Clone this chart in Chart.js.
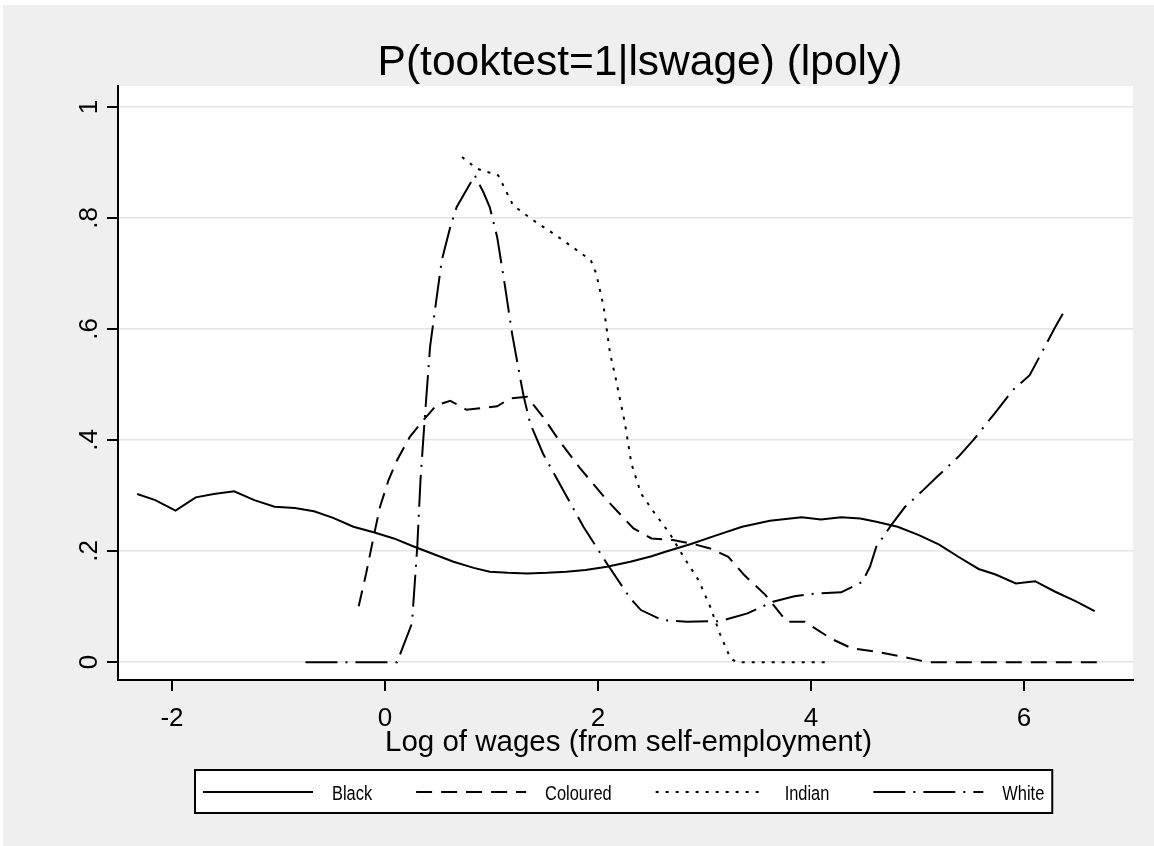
<!DOCTYPE html>
<html>
<head>
<meta charset="utf-8">
<script src="https://cdn.jsdelivr.net/npm/chart.js@4"></script>
<style>
  html, body { margin: 0; padding: 0; background: #fff; }
</style>
</head>
<body>
<canvas id="chart" width="1154" height="846"></canvas>
<script>
// chart text
const chartTitle = 'P(tooktest=1|lswage) (lpoly)';
const xAxisTitle = 'Log of wages (from self-employment)';
const xTicks = [-2, 0, 2, 4, 6];
const xTickLabels = ['-2', '0', '2', '4', '6'];
const yTicks = [0, 0.2, 0.4, 0.6, 0.8, 1];
const yTickLabels = ['0', '.2', '.4', '.6', '.8', '1'];
const seriesNames = ['Black', 'Coloured', 'Indian', 'White'];

// [x, y]
const blackPts = [
  [-2.33, .303], [-2.16, .292], [-1.97, .273], [-1.78, .297], [-1.61, .303], [-1.42, .308],
  [-1.23, .292], [-1.04, .280], [-0.85, .278], [-0.67, .272], [-0.49, .260], [-0.30, .244],
  [-0.11, .234], [0.08, .223], [0.26, .209], [0.45, .195], [0.64, .181], [0.83, .170],
  [0.98, .163], [1.15, .161], [1.33, .160], [1.52, .161], [1.70, .163], [1.88, .166],
  [2.08, .172], [2.30, .181], [2.50, .191], [2.63, .199], [2.87, .213], [3.10, .228],
  [3.35, .244], [3.61, .255], [3.91, .261], [4.09, .257], [4.28, .261], [4.46, .259],
  [4.61, .253], [4.81, .244], [5.01, .229], [5.20, .212], [5.38, .190], [5.57, .168],
  [5.73, .158], [5.92, .142], [6.10, .146], [6.29, .127], [6.48, .110], [6.66, .092]
];
const colouredPts = [
  [-0.25, .101], [-0.18, .160], [-0.11, .226], [-0.05, .280], [0.03, .328], [0.11, .364],
  [0.23, .406], [0.37, .439], [0.48, .463], [0.61, .471], [0.76, .455], [1.05, .461],
  [1.17, .475], [1.33, .478], [1.48, .442], [1.64, .397], [1.83, .349], [2.08, .292],
  [2.33, .241], [2.50, .223], [2.70, .220], [2.87, .214], [3.05, .205], [3.22, .190],
  [3.37, .157], [3.57, .121], [3.77, .073], [3.94, .073], [4.18, .043], [4.38, .025],
  [4.61, .019], [4.85, .010], [5.10, 0], [5.50, 0], [6.00, 0], [6.69, 0]
];
const indianPts = [
  [0.72, .910], [0.86, .889], [1.06, .877], [1.20, .823], [1.39, .796], [1.58, .772],
  [1.80, .742], [1.93, .724], [1.98, .700], [2.05, .640], [2.11, .556], [2.16, .514],
  [2.25, .430], [2.31, .358], [2.40, .304], [2.53, .268], [2.67, .232], [2.80, .190],
  [2.94, .148], [3.05, .100], [3.14, .052], [3.24, .007], [3.30, 0], [3.70, 0], [4.14, 0]
];
const whitePts = [
  [-0.75, 0], [-0.30, 0], [0.11, 0], [0.25, .070], [0.30, .208], [0.33, .328],
  [0.37, .439], [0.42, .568], [0.47, .640], [0.53, .724], [0.61, .784], [0.67, .820],
  [0.84, .877], [0.92, .847], [0.98, .820], [1.05, .766], [1.12, .682], [1.19, .592],
  [1.27, .508], [1.30, .478], [1.36, .430], [1.48, .376], [1.67, .310], [1.86, .244],
  [2.08, .178], [2.30, .115], [2.40, .094], [2.60, .076], [2.83, .073], [3.14, .074],
  [3.40, .088], [3.64, .109], [3.84, .119], [4.04, .124], [4.28, .126], [4.48, .145],
  [4.55, .172], [4.61, .208], [4.75, .247], [4.88, .280], [5.05, .310], [5.18, .334],
  [5.38, .370], [5.52, .400], [5.72, .448], [5.89, .490], [6.05, .517], [6.15, .553],
  [6.29, .604], [6.37, .631]
];

const seriesPts = [blackPts, colouredPts, indianPts, whitePts];
const seriesDash = [[], [16, 9], [3, 7], [32, 8, 2, 8]];

const FONT = '"Liberation Sans", Arial, sans-serif';

// backgrounds, ticks, labels, title and the legend box
const stataLook = {
  id: 'stataLook',
  beforeDraw(chart) {
    const { ctx, chartArea: a } = chart;
    ctx.save();
    ctx.fillStyle = '#ffffff';
    ctx.fillRect(0, 0, chart.width, chart.height);
    ctx.fillStyle = '#efefef';
    ctx.fillRect(3, 5, chart.width - 3, chart.height - 5);
    ctx.fillStyle = '#ffffff';
    ctx.fillRect(a.left, a.top, a.right - a.left, a.bottom - a.top);
    ctx.restore();
  },
  afterDraw(chart) {
    const { ctx, chartArea: a } = chart;
    const xs = chart.scales.x, ys = chart.scales.y;
    ctx.save();
    ctx.strokeStyle = '#000';
    ctx.fillStyle = '#000';
    ctx.lineWidth = 2;

    // x ticks + labels
    ctx.font = '26px ' + FONT;
    ctx.textAlign = 'center';
    ctx.textBaseline = 'alphabetic';
    xTicks.forEach((v, i) => {
      const px = Math.round(xs.getPixelForValue(v));
      ctx.beginPath();
      ctx.moveTo(px, a.bottom);
      ctx.lineTo(px, a.bottom + 11);
      ctx.stroke();
      ctx.fillText(xTickLabels[i], px, 726);
    });

    // y ticks + rotated labels
    yTicks.forEach((v, i) => {
      const py = Math.round(ys.getPixelForValue(v));
      ctx.beginPath();
      ctx.moveTo(a.left - 11, py);
      ctx.lineTo(a.left, py);
      ctx.stroke();
      ctx.save();
      ctx.translate(97, py);
      ctx.rotate(-Math.PI / 2);
      ctx.fillText(yTickLabels[i], 0, 0);
      ctx.restore();
    });

    // axis title
    ctx.font = '29.5px ' + FONT;
    ctx.fillText(xAxisTitle, (a.left + a.right) / 2 + 3, 751);

    // title
    ctx.font = '42.5px ' + FONT;
    ctx.fillText(chartTitle, 640, 75);

    // legend
    const sx = 0.82;
    ctx.font = '20px ' + FONT;
    ctx.textAlign = 'left';
    let x = 203;
    const keys = [];
    seriesNames.forEach((name, i) => {
      const w = ctx.measureText(name).width * sx;
      keys.push({ x, name, w, i });
      x = x + 129 + w + 44;
    });
    const last = keys[keys.length - 1];
    const boxR = last.x + 129 + last.w + 8;
    ctx.fillStyle = '#fff';
    ctx.fillRect(195, 770, boxR - 195, 43);
    ctx.strokeRect(195, 770, boxR - 195, 43);
    ctx.fillStyle = '#000';
    keys.forEach(k => {
      const ds = chart.data.datasets[k.i];
      ctx.save();
      ctx.setLineDash(ds.borderDash);
      ctx.lineWidth = ds.borderWidth;
      ctx.beginPath();
      ctx.moveTo(k.x, 792);
      ctx.lineTo(k.x + 110, 792);
      ctx.stroke();
      ctx.restore();
      ctx.save();
      ctx.translate(k.x + 129, 800);
      ctx.scale(sx, 1);
      ctx.fillText(k.name, 0, 0);
      ctx.restore();
    });
    ctx.restore();
  }
};

new Chart(document.getElementById('chart'), {
  type: 'line',
  data: {
    datasets: seriesNames.map((name, i) => ({
      label: name,
      data: seriesPts[i].map(p => ({ x: p[0], y: p[1] })),
      borderColor: '#000',
      borderWidth: 2,
      borderDash: seriesDash[i],
      pointRadius: 0,
      tension: 0,
      fill: false
    }))
  },
  options: {
    responsive: false,
    animation: false,
    devicePixelRatio: 1,
    layout: { padding: { left: 118, right: 21, top: 86, bottom: 166 } },
    plugins: {
      legend: { display: false },
      title: { display: false },
      tooltip: { enabled: false }
    },
    scales: {
      x: {
        type: 'linear',
        min: -2.51,
        max: 7.02,
        ticks: { display: false },
        grid: { display: false, drawTicks: false },
        border: { display: true, color: '#000', width: 2 }
      },
      y: {
        type: 'linear',
        min: -0.032,
        max: 1.038,
        afterBuildTicks: s => { s.ticks = yTicks.map(v => ({ value: v })); },
        ticks: { display: false },
        grid: { color: '#e4e4e4', lineWidth: 1.5, drawTicks: false },
        border: { display: true, color: '#000', width: 2 }
      }
    }
  },
  plugins: [stataLook]
});
</script>
</body>
</html>
